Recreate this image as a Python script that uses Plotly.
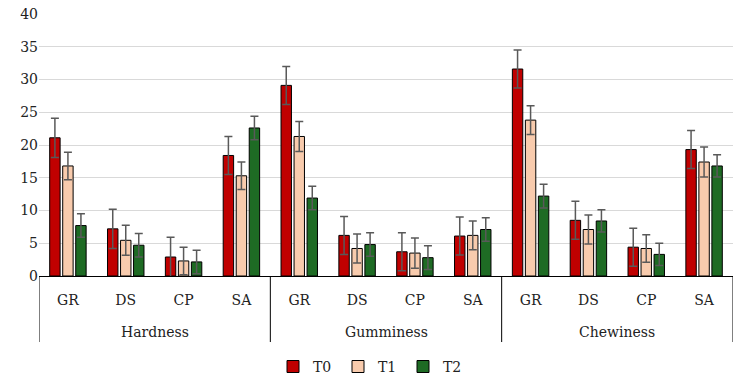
import plotly.graph_objects as go

groups = ["Hardness", "Gumminess", "Chewiness"]
subcats = ["GR", "DS", "CP", "SA"]

t0 = [21.1, 7.2, 2.9, 18.4, 29.1, 6.2, 3.7, 6.1, 31.6, 8.5, 4.4, 19.3]
t1 = [16.8, 5.45, 2.3, 15.3, 21.3, 4.2, 3.5, 6.2, 23.8, 7.1, 4.2, 17.4]
t2 = [7.7, 4.7, 2.15, 22.6, 11.9, 4.8, 2.8, 7.1, 12.2, 8.4, 3.3, 16.8]
e0 = [3.0, 3.0, 3.0, 2.9, 2.9, 2.9, 2.9, 2.9, 2.9, 2.9, 2.9, 2.9]
e1 = [2.1, 2.3, 2.1, 2.1, 2.3, 2.2, 2.3, 2.2, 2.2, 2.2, 2.1, 2.3]
e2 = [1.8, 1.8, 1.8, 1.8, 1.8, 1.8, 1.8, 1.8, 1.8, 1.7, 1.7, 1.7]

series = [("T0", t0, e0, "#C00000"), ("T1", t1, e1, "#F8CBAD"), ("T2", t2, e2, "#1E6B24")]

cats = [f"{g} {s}" for g in groups for s in subcats]
sub_labels = [s for _ in groups for s in subcats]

font = "DejaVu Serif"
txtcol = "#222222"

fig = go.Figure()
for name, vals, errs, col in series:
    fig.add_trace(go.Bar(
        x=cats, y=vals, name=name,
        marker=dict(color=col, line=dict(color="black", width=1)),
        error_y=dict(type="data", array=errs, visible=True, color="#595959", thickness=1.5, width=4),
    ))

n = len(subcats)
# group labels and dividers in axis (category index) coordinates
for gi, g in enumerate(groups):
    fig.add_annotation(x=gi * n + (n - 1) / 2, y=-0.213, xref="x", yref="paper",
                       text=g, showarrow=False, yanchor="middle",
                       font=dict(family=font, size=14, color=txtcol))
for gi in range(len(groups) + 1):
    fig.add_shape(type="line", xref="x", yref="paper",
                  x0=gi * n - 0.5, x1=gi * n - 0.5, y0=0, y1=-0.252,
                  line=dict(color="black", width=1))

fig.update_layout(
    width=741, height=381,
    margin=dict(l=39, r=8, t=14, b=105),
    paper_bgcolor="white", plot_bgcolor="white",
    barmode="group", bargap=0.325, bargroupgap=0.2,
    font=dict(family=font, size=14, color=txtcol),
    showlegend=True,
    legend=dict(orientation="h", x=0.5, xanchor="center", xref="container",
                y=0.037, yanchor="middle", yref="container",
                entrywidth=20, entrywidthmode="pixels",
                font=dict(family=font, size=14, color=txtcol), itemwidth=30),
    xaxis=dict(type="category", tickvals=cats, ticktext=sub_labels,
               range=[-0.5, len(cats) - 0.5],
               showline=True, linecolor="black", linewidth=1,
               ticks="outside", ticklen=11, tickcolor="rgba(0,0,0,0)",
               showgrid=False, automargin=False,
               tickfont=dict(family=font, size=14, color=txtcol)),
    yaxis=dict(range=[0, 40], dtick=5, showgrid=True, gridcolor="#D9D9D9", gridwidth=1,
               zeroline=False, showline=False, ticks="", automargin=False,
               tickfont=dict(family=font, size=14, color=txtcol)),
)

fig.write_html("out.html")
